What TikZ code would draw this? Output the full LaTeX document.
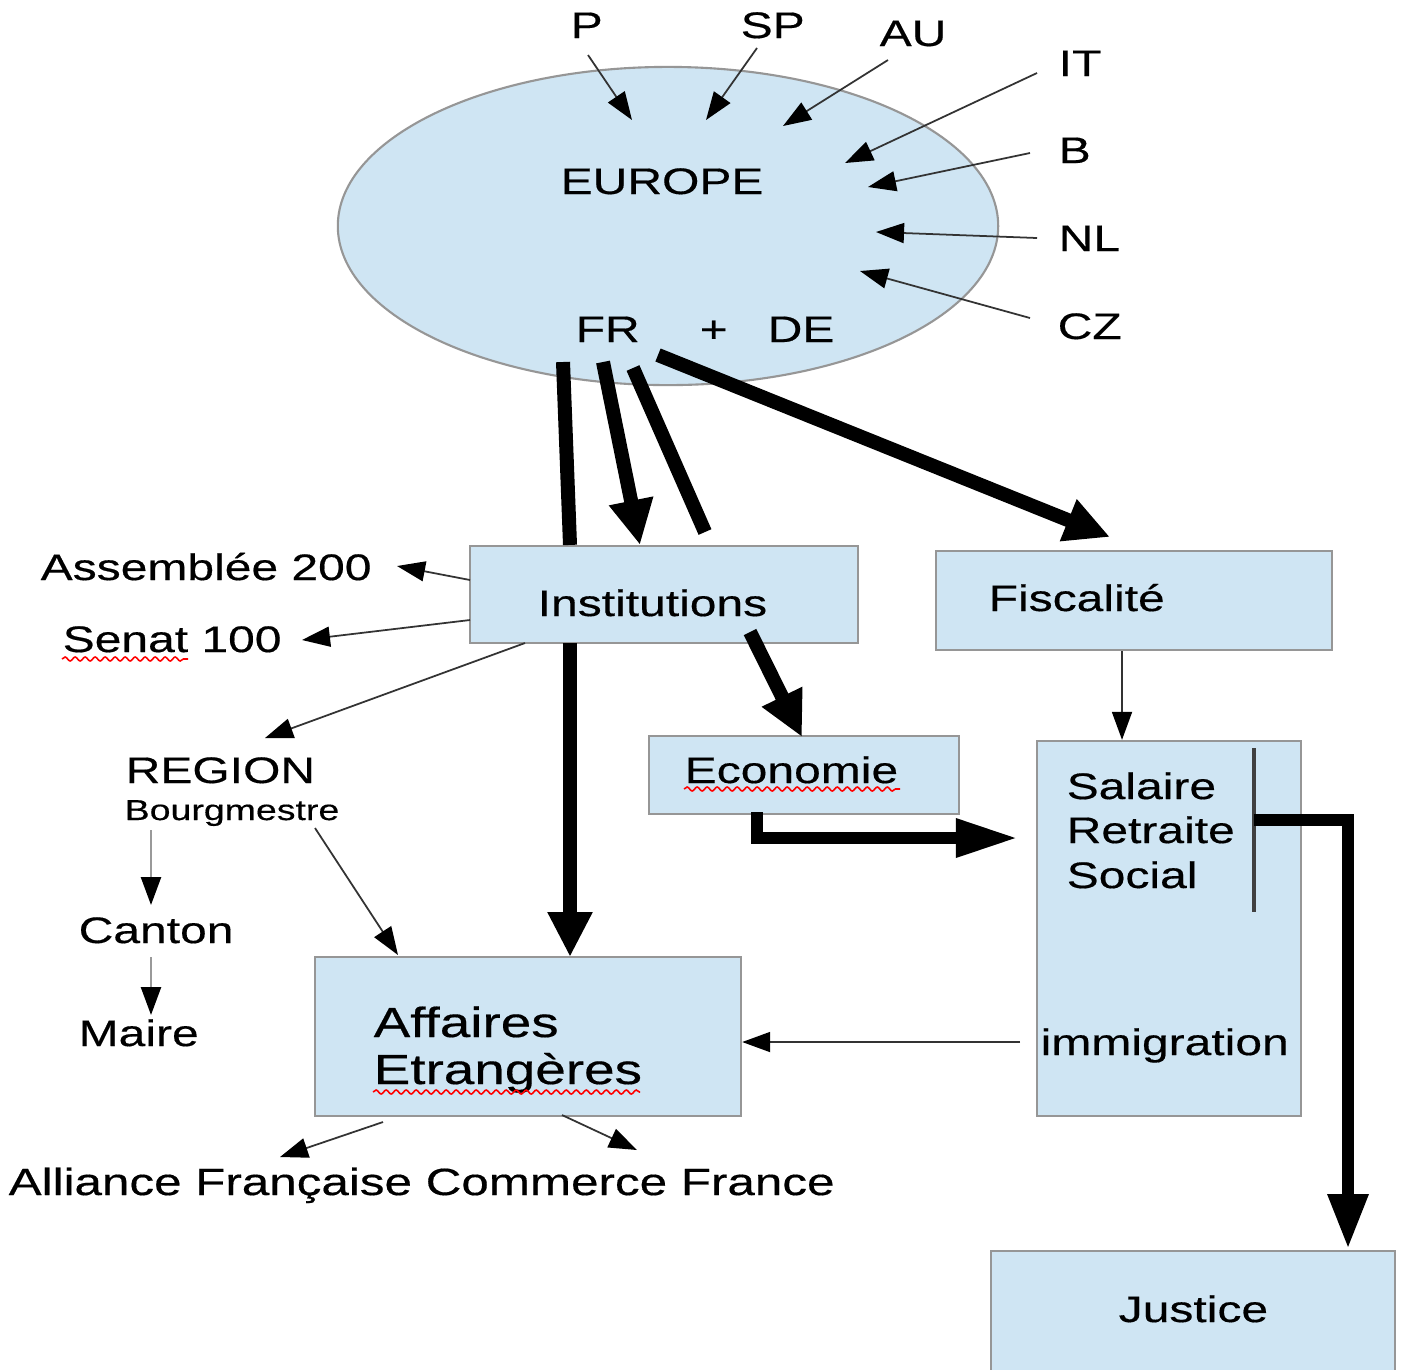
\documentclass[tikz,border=0pt]{standalone}
\usepackage{fontspec}
\setmainfont{Liberation Sans}[FakeStretch=1.3,FakeBold=0.4]
\usetikzlibrary{arrows.meta,shapes.geometric,decorations.pathmorphing,calc}
\definecolor{boxfill}{RGB}{207,229,243}
\definecolor{boxline}{RGB}{150,150,150}
\begin{document}
\begin{tikzpicture}[x=0.01cm,y=-0.01cm,
  lbl/.style={anchor=base west, inner sep=0pt, font=\fontsize{10.5}{12.5}\selectfont},
  biglbl/.style={lbl, font=\fontsize{12}{14}\selectfont},
  smalllbl/.style={lbl, font=\fontsize{8.2}{10}\selectfont},
  box/.style={draw=boxline, fill=boxfill, line width=0.6pt, inner sep=0pt},
  thinarr/.style={draw=black!80, line width=0.5pt, -{Triangle[length=0.28cm,width=0.2cm,color=black]}},
  grayarr/.style={draw=black!40, line width=0.7pt, -{Triangle[length=0.28cm,width=0.2cm,color=black]}},
  thickline/.style={line width=0.14cm},
  thickarr/.style={thickline, -{Triangle[length=0.45cm,width=0.42cm]}},
  squiggle/.style={draw=red, line width=0.45pt, decorate, decoration={snake, segment length=0.1cm, amplitude=0.02cm}}]
\clip (0,0) rectangle (1401,1369);
\fill[white] (0,0) rectangle (1401,1369);

% Europe ellipse
\node[ellipse, draw=boxline, fill=boxfill, line width=0.6pt, inner sep=0pt,
      minimum width=6.6cm, minimum height=3.18cm] (europe) at (668,226) {};
\node[lbl] (eur) at (560,194) {EUROPE};
\node[lbl] (fr) at (575,342) {FR};
\node[lbl] (plus) at (699,342) {+};
\node[lbl] (de) at (767,342) {DE};

% country labels
\node[lbl] (P) at (570,38) {P};
\node[lbl] (SP) at (740,38) {SP};
\node[lbl] (AU) at (879,46) {AU};
\node[lbl] (IT) at (1058,76) {IT};
\node[lbl] (B) at (1058,163) {B};
\node[lbl] (NL) at (1058,251) {NL};
\node[lbl] (CZ) at (1057,339) {CZ};

\coordinate (pS) at (588,55);   \coordinate (pE) at (632,120);
\coordinate (spS) at (757,48);  \coordinate (spE) at (706,120);
\coordinate (auS) at (888,60);  \coordinate (auE) at (783,126);
\coordinate (itS) at (1037,73); \coordinate (itE) at (845,163);
\coordinate (bS) at (1030,153); \coordinate (bE) at (868,187);
\coordinate (nlS) at (1037,238);\coordinate (nlE) at (876,232);
\coordinate (czS) at (1030,318);\coordinate (czE) at (860,271);
\draw[thinarr] (pS) -- (pE);
\draw[thinarr] (spS) -- (spE);
\draw[thinarr] (auS) -- (auE);
\draw[thinarr] (itS) -- (itE);
\draw[thinarr] (bS) -- (bE);
\draw[thinarr] (nlS) -- (nlE);
\draw[thinarr] (czS) -- (czE);

% boxes
\node[box, minimum width=3.88cm, minimum height=0.97cm] (inst) at (664,594.5) {};
\node[lbl] (instT) at (537,616) {Institutions};
\node[box, minimum width=3.96cm, minimum height=0.99cm] (fisc) at (1134,600.5) {};
\node[lbl] (fiscT) at (988,611) {Fiscalité};
\node[box, minimum width=3.10cm, minimum height=0.78cm] (eco) at (804,775) {};
\node[lbl] (ecoT) at (684,783) {Economie};
\node[box, minimum width=2.64cm, minimum height=3.75cm] (sal) at (1169,928.5) {};
\node[lbl] (salT) at (1066,799) {Salaire};
\node[lbl] (retT) at (1066,843) {Retraite};
\node[lbl] (socT) at (1066,888) {Social};
\node[lbl] (immT) at (1040,1055) {immigration};
\node[box, minimum width=4.26cm, minimum height=1.59cm] (aff) at (528,1036.5) {};
\node[biglbl] (affT) at (373,1037) {Affaires};
\node[biglbl] (etrT) at (373,1084) {Etrangères};
\node[box, minimum width=4.04cm, minimum height=1.40cm] (just) at (1193,1321) {};
\node[lbl] (justT) at (1118,1322) {Justice};

% left labels
\node[lbl] (ass) at (40,580) {Assemblée 200};
\node[lbl] (sen) at (62,652) {Senat 100};
\node[lbl] (reg) at (125,783) {REGION};
\node[smalllbl] (bourg) at (124,820) {Bourgmestre};
\node[lbl] (can) at (78,943) {Canton};
\node[lbl] (mai) at (78,1046) {Maire};
\node[lbl, font=\fontsize{10.8}{13}\selectfont] (all) at (8,1195) {Alliance Française Commerce France};

% spell-check squiggles
\draw[squiggle] (62,659) -- (188,659);
\draw[squiggle] (684,789) -- (900,789);
\draw[squiggle] (373,1092) -- (640,1092);

% thick connectors from Europe
\coordinate (t1S) at (563,362);
\coordinate (t2S) at (603,362);
\coordinate (t3S) at (633,368);
\coordinate (t3E) at (705,532);
\coordinate (t4S) at (658,355);
\draw[thickline] (t1S) -- (inst.north -| 570,0);
\draw[thickarr] (t2S) -- (640,545);
\draw[thickline] (t3S) -- (t3E);
\draw[thickarr] (t4S) -- (1110,537);

% Institutions connectors
\draw[thickarr] (570,643) -- (570,957);
\draw[thickarr] (750,632) -- (802,737);
\draw[thinarr] (470,580) -- (397,566);
\draw[thinarr] (470,620) -- (302,640);
\draw[thinarr] (525,643) -- (265,738);

% Region chain
\draw[grayarr] (151,830) -- (151,905);
\draw[grayarr] (151,957) -- (151,1015);
\draw[thinarr] (315,828) -- (398,955);

% Affaires outputs
\draw[thinarr] (383,1122) -- (280,1157);
\draw[thinarr] (562,1115) -- (637,1150);

% Fiscalite -> Salaire
\draw[thinarr] (fisc.south -| 1122,0) -- (sal.north -| 1122,0);

% Economie -> Salaire
\draw[line width=0.12cm, line join=miter, -{Triangle[length=0.62cm,width=0.36cm]}] (757,812) -- (757,838) -- (1018,838);

% immigration -> Affaires
\draw[thinarr] (1020,1042) -- (aff.east |- 0,1042);

% Salaire bar and -> Justice
\draw[draw=black!75, line width=0.9pt] (1254,748) -- (1254,912);
\draw[line width=0.12cm, line join=miter, -{Triangle[length=0.55cm,width=0.38cm]}] (1254,820) -- (1348,820) -- (1348,1249);
\end{tikzpicture}
\end{document}
